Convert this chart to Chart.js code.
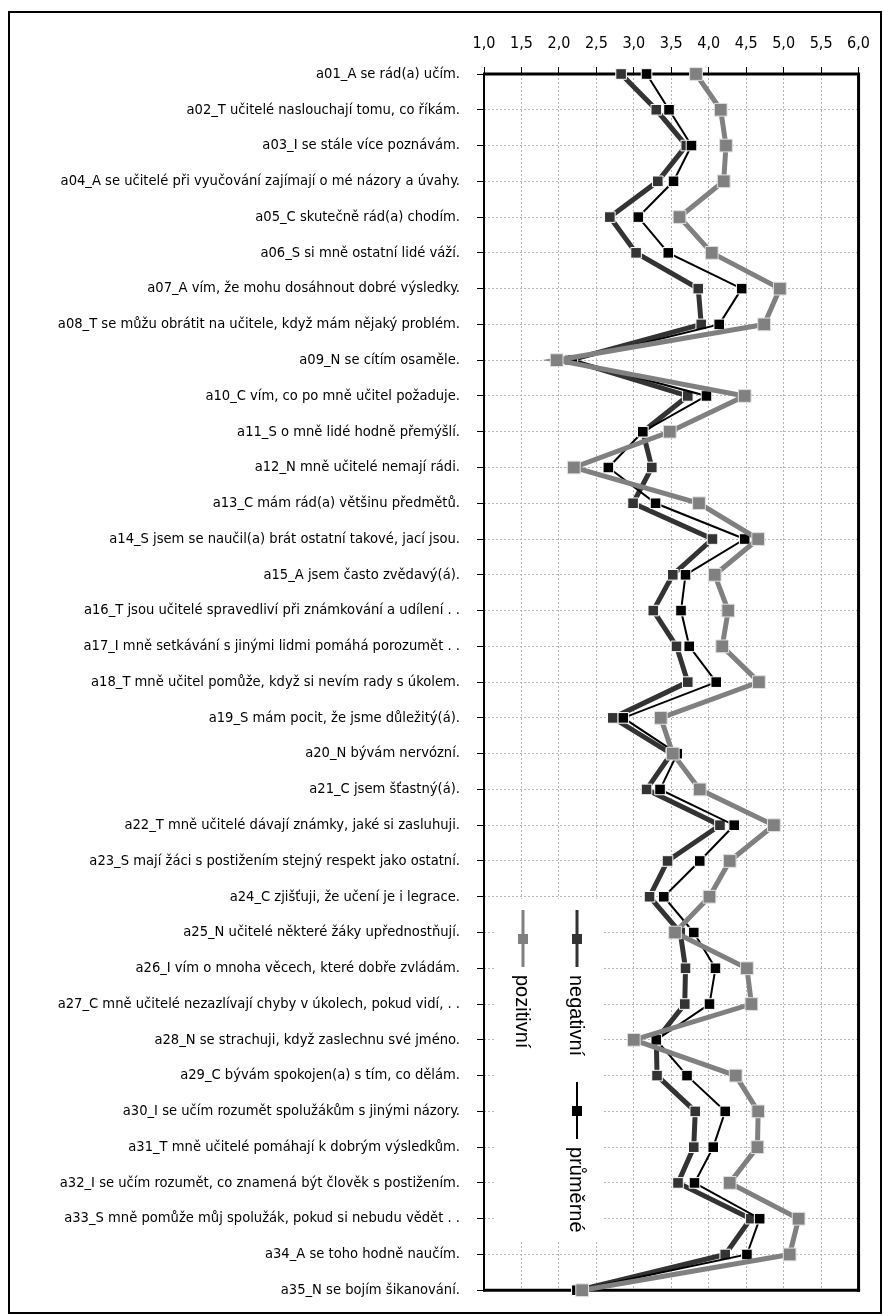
<!DOCTYPE html>
<html>
<head>
<meta charset="utf-8">
<script src="https://cdn.jsdelivr.net/npm/chart.js@4.4.1/dist/chart.umd.min.js"></script>
<style>
  html, body { margin: 0; padding: 0; background: #ffffff; }
  #wrap { width: 884px; height: 1316px; position: relative; }
</style>
</head>
<body>
<div id="wrap"><canvas id="c" width="884" height="1316"></canvas></div>
<script>
const categories = [
  "a01_A se rád(a) učím.",
  "a02_T učitelé naslouchají tomu, co říkám.",
  "a03_I se stále více poznávám.",
  "a04_A se učitelé při vyučování zajímají o mé názory a úvahy.",
  "a05_C skutečně rád(a) chodím.",
  "a06_S si mně ostatní lidé váží.",
  "a07_A vím, že mohu dosáhnout dobré výsledky.",
  "a08_T se můžu obrátit na učitele, když mám nějaký problém.",
  "a09_N se cítím osaměle.",
  "a10_C vím, co po mně učitel požaduje.",
  "a11_S o mně lidé hodně přemýšlí.",
  "a12_N mně učitelé nemají rádi.",
  "a13_C mám rád(a) většinu předmětů.",
  "a14_S jsem se naučil(a) brát ostatní takové, jací jsou.",
  "a15_A jsem často zvědavý(á).",
  "a16_T jsou učitelé spravedliví při známkování a udílení . .",
  "a17_I mně setkávání s jinými lidmi pomáhá porozumět . .",
  "a18_T mně učitel pomůže, když si nevím rady s úkolem.",
  "a19_S mám pocit, že jsme důležitý(á).",
  "a20_N bývám nervózní.",
  "a21_C jsem šťastný(á).",
  "a22_T mně učitelé dávají známky, jaké si zasluhuji.",
  "a23_S mají žáci s postižením stejný respekt jako ostatní.",
  "a24_C zjišťuji, že učení je i legrace.",
  "a25_N učitelé některé žáky upřednostňují.",
  "a26_I vím o mnoha věcech, které dobře zvládám.",
  "a27_C mně učitelé nezazlívají chyby v úkolech, pokud vidí, . .",
  "a28_N se strachuji, když zaslechnu své jméno.",
  "a29_C bývám spokojen(a) s tím, co dělám.",
  "a30_I se učím rozumět spolužákům s jinými názory.",
  "a31_T mně učitelé pomáhají k dobrým výsledkům.",
  "a32_I se učím rozumět, co znamená být člověk s postižením.",
  "a33_S mně pomůže můj spolužák, pokud si nebudu vědět . .",
  "a34_A se toho hodně naučím.",
  "a35_N se bojím šikanování."
];

const seriesNames = ["pozitivní", "negativní", "průměrné"];

const pozitivni = [3.83, 4.16, 4.23, 4.20, 3.61, 4.04, 4.95, 4.74, 1.97, 4.48,
                   3.48, 2.20, 3.87, 4.66, 4.08, 4.26, 4.18, 4.67, 3.36, 3.52,
                   3.88, 4.87, 4.28, 4.01, 3.55, 4.51, 4.57, 3.00, 4.36, 4.66,
                   4.65, 4.28, 5.20, 5.08, 2.31];

const negativni = [2.83, 3.30, 3.70, 3.32, 2.68, 3.03, 3.86, 3.90, 2.15, 3.72,
                   3.12, 3.24, 2.99, 4.05, 3.52, 3.26, 3.57, 3.72, 2.72, 3.50,
                   3.17, 4.15, 3.45, 3.21, 3.62, 3.69, 3.68, 3.30, 3.31, 3.82,
                   3.80, 3.59, 4.56, 4.22, 2.26];

const prumerne = [3.17, 3.47, 3.77, 3.53, 3.06, 3.46, 4.44, 4.14, 2.18, 3.97,
                  3.12, 2.66, 3.29, 4.48, 3.69, 3.63, 3.74, 4.10, 2.86, 3.58,
                  3.35, 4.34, 3.88, 3.40, 3.80, 4.09, 4.01, 3.30, 3.71, 4.22,
                  4.06, 3.81, 4.68, 4.51, 2.24];

const xTickLabels = ["1,0","1,5","2,0","2,5","3,0","3,5","4,0","4,5","5,0","5,5","6,0"];

const NARROW = "'Liberation Sans Narrow', 'DejaVu Sans Condensed', 'Roboto Condensed', 'Arial Narrow', sans-serif";
const COL_POS = "#808080", COL_NEG = "#333333", COL_AVG = "#000000";

const frameAndLegend = {
  id: 'frameAndLegend',
  beforeDatasetsDraw(chart) {
    const ctx = chart.ctx, a = chart.chartArea;
    ctx.save();
    // legend background
    ctx.fillStyle = '#ffffff';
    ctx.fillRect(495, 899, 108, 343);
    // plot frame
    ctx.strokeStyle = '#000';
    ctx.lineWidth = 2;
    ctx.beginPath(); ctx.moveTo(a.left, a.top - 1); ctx.lineTo(a.left, a.bottom + 1); ctx.stroke();
    ctx.lineWidth = 3;
    ctx.beginPath(); ctx.moveTo(a.left - 1, a.top); ctx.lineTo(a.right + 1.5, a.top); ctx.stroke();
    ctx.beginPath(); ctx.moveTo(a.right, a.top); ctx.lineTo(a.right, a.bottom + 1.5); ctx.stroke();
    ctx.beginPath(); ctx.moveTo(a.left - 1, a.bottom); ctx.lineTo(a.right + 1.5, a.bottom); ctx.stroke();
    // outer frame
    ctx.lineWidth = 2;
    ctx.strokeRect(9, 12, 872, 1301);
    ctx.restore();
  },
  afterDatasetsDraw(chart) {
    const ctx = chart.ctx;
    const items = [
      {name: seriesNames[0], color: COL_POS, lw: 3, x: 523, y0: 910},
      {name: seriesNames[1], color: COL_NEG, lw: 3, x: 577, y0: 910},
      {name: seriesNames[2], color: COL_AVG, lw: 2, x: 577, y0: 1082}
    ];
    ctx.save();
    items.forEach(it => {
      ctx.strokeStyle = it.color;
      ctx.lineWidth = it.lw;
      ctx.beginPath(); ctx.moveTo(it.x, it.y0); ctx.lineTo(it.x, it.y0 + 57); ctx.stroke();
      ctx.fillStyle = it.color;
      ctx.fillRect(it.x - 5, it.y0 + 24, 10, 10);
      ctx.save();
      ctx.translate(it.x - 1, it.y0 + 65);
      ctx.rotate(Math.PI / 2);
      ctx.fillStyle = '#000';
      ctx.font = "20px 'Liberation Sans', Arial, sans-serif";
      ctx.textBaseline = 'middle';
      ctx.textAlign = 'left';
      ctx.fillText(it.name, 0, 0);
      ctx.restore();
    });
    ctx.restore();
  }
};

const chart = new Chart(document.getElementById('c'), {
  type: 'line',
  data: {
    labels: categories,
    datasets: [
      { label: seriesNames[0], data: pozitivni, borderColor: COL_POS, backgroundColor: COL_POS,
        borderWidth: 5, pointStyle: 'rect', pointRadius: 9, pointBorderColor: '#e0e0e0', pointBorderWidth: 1,
        pointBackgroundColor: COL_POS, clip: false, tension: 0 },
      { label: seriesNames[2], data: prumerne, borderColor: COL_AVG, backgroundColor: COL_AVG,
        borderWidth: 2, pointStyle: 'rect', pointRadius: 7.5, pointBorderColor: '#ffffff', pointBorderWidth: 1,
        pointBackgroundColor: COL_AVG, clip: false, tension: 0 },
      { label: seriesNames[1], data: negativni, borderColor: COL_NEG, backgroundColor: COL_NEG,
        borderWidth: 5, pointStyle: 'rect', pointRadius: 7.5, pointBorderColor: '#ffffff', pointBorderWidth: 1,
        pointBackgroundColor: COL_NEG, clip: false, tension: 0 }
    ]
  },
  options: {
    indexAxis: 'y',
    responsive: false,
    animation: false,
    devicePixelRatio: 1,
    layout: { padding: { left: 0, top: 0, right: 13, bottom: 12 } },
    plugins: { legend: { display: false }, tooltip: { enabled: false } },
    scales: {
      x: {
        type: 'linear', position: 'top', min: 1, max: 6,
        afterFit(s) { s.height = 74; },
        afterBuildTicks(s) { s.ticks = xTickLabels.map((t, i) => ({ value: 1 + i * 0.5 })); },
        ticks: {
          callback: (v, i) => xTickLabels[i],
          color: '#000', padding: 14, maxRotation: 0, autoSkip: false,
          font: { family: NARROW, size: 16 }
        },
        grid: { color: '#b4b4b4', lineWidth: 1, tickLength: 7, tickColor: '#000', tickWidth: 1, tickBorderDash: [] },
        border: { display: false, dash: [2, 2] }
      },
      y: {
        type: 'category', position: 'left', offset: false,
        afterFit(s) { s.width = 484; },
        ticks: {
          color: '#000', padding: 17, autoSkip: false,
          font: { family: NARROW, size: 14.6 }
        },
        grid: { color: '#b4b4b4', lineWidth: 1, offset: false, tickLength: 7, tickColor: '#000', tickWidth: 1, tickBorderDash: [] },
        border: { display: false, dash: [2, 2] }
      }
    }
  },
  plugins: [frameAndLegend]
});
</script>
</body>
</html>
